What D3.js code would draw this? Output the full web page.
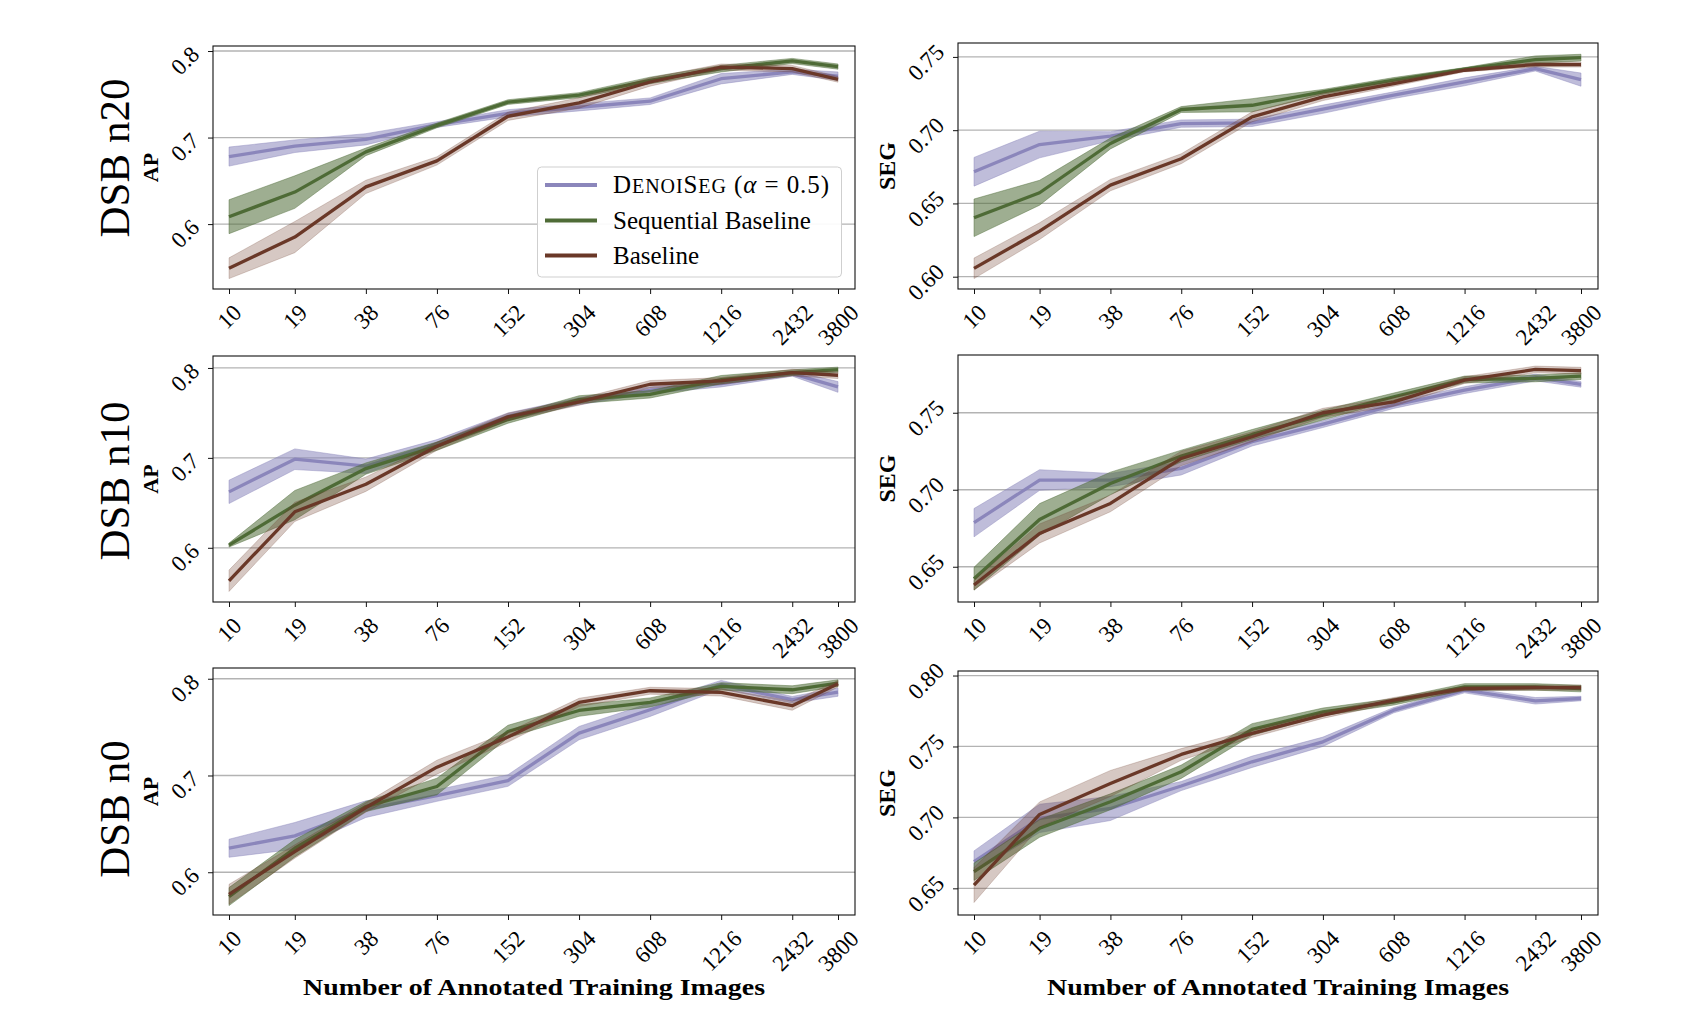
<!DOCTYPE html>
<html><head><meta charset="utf-8">
<script src="https://cdn.jsdelivr.net/npm/d3@7"></script>
<style>body{margin:0;background:#fff}svg{display:block}</style>
</head><body>
<svg id="chart" width="1682" height="1030"></svg>
<script>
// ---------------- DATA ----------------
const xValues = [10, 19, 38, 76, 152, 304, 608, 1216, 2432, 3800];
const xTickLabels = ["10", "19", "38", "76", "152", "304", "608", "1216", "2432", "3800"];
const seriesNames = ["DenoiSeg", "Sequential Baseline", "Baseline"];
const datasetNames = ["DSB n20", "DSB n10", "DSB n0"];
const metricNames = ["AP", "SEG"];
const xAxisTitle = "Number of Annotated Training Images";

// DSB n20 AP
const n20_AP_denoiseg = [0.678, 0.690, 0.698, 0.715, 0.728, 0.735, 0.742, 0.768, 0.776, 0.771];
const n20_AP_denoiseg_err = [0.011, 0.0073, 0.0065, 0.0033, 0.0042, 0.0042, 0.0038, 0.006, 0.003, 0.0048];
const n20_AP_sequential = [0.6085, 0.637, 0.6835, 0.714, 0.741, 0.749, 0.766, 0.7796, 0.7885, 0.782];
const n20_AP_sequential_err = [0.0196, 0.0188, 0.0044, 0.0027, 0.0027, 0.0029, 0.0038, 0.0038, 0.003, 0.003];
const n20_AP_baseline = [0.549, 0.585, 0.643, 0.673, 0.7246, 0.740, 0.7642, 0.7815, 0.7796, 0.7673];
const n20_AP_baseline_err = [0.012, 0.018, 0.0077, 0.0048, 0.0048, 0.006, 0.0048, 0.0035, 0.0038, 0.0033];
// DSB n20 SEG
const n20_SEG_denoiseg = [0.6716, 0.6902, 0.6959, 0.7045, 0.705, 0.7143, 0.7239, 0.733, 0.742, 0.7345];
const n20_SEG_denoiseg_err = [0.0098, 0.0091, 0.0031, 0.0025, 0.0025, 0.0028, 0.0023, 0.0027, 0.0016, 0.0045];
const n20_SEG_sequential = [0.6402, 0.6573, 0.6909, 0.7141, 0.717, 0.7261, 0.7341, 0.7416, 0.7482, 0.7495];
const n20_SEG_sequential_err = [0.0128, 0.0085, 0.0037, 0.002, 0.0045, 0.0017, 0.0018, 0.0011, 0.0025, 0.0023];
const n20_SEG_baseline = [0.6057, 0.6311, 0.6625, 0.6805, 0.7091, 0.7227, 0.7318, 0.7409, 0.7448, 0.7448];
const n20_SEG_baseline_err = [0.007, 0.0057, 0.0039, 0.0034, 0.0034, 0.0025, 0.0018, 0.0011, 0.0017, 0.0017];
// DSB n10 AP
const n10_AP_denoiseg = [0.6622, 0.6985, 0.6907, 0.7159, 0.7463, 0.763, 0.7752, 0.7826, 0.7937, 0.7789];
const n10_AP_denoiseg_err = [0.013, 0.0115, 0.008, 0.0044, 0.0037, 0.0039, 0.0037, 0.0037, 0.0028, 0.006];
const n10_AP_sequential = [0.603, 0.6474, 0.6881, 0.713, 0.7426, 0.7648, 0.7707, 0.787, 0.7948, 0.7981];
const n10_AP_sequential_err = [0.0022, 0.0163, 0.0063, 0.0046, 0.0041, 0.0043, 0.0041, 0.0046, 0.0031, 0.0028];
const n10_AP_baseline = [0.5633, 0.64, 0.6707, 0.713, 0.7456, 0.7622, 0.7819, 0.7856, 0.7948, 0.7919];
const n10_AP_baseline_err = [0.0119, 0.0107, 0.008, 0.0046, 0.0041, 0.0037, 0.0041, 0.0037, 0.0037, 0.0037];
// DSB n10 SEG
const n10_SEG_denoiseg = [0.6786, 0.7063, 0.7063, 0.7139, 0.7312, 0.7426, 0.755, 0.7647, 0.7729, 0.7684];
const n10_SEG_denoiseg_err = [0.0092, 0.0067, 0.0043, 0.0043, 0.0028, 0.0022, 0.0022, 0.0022, 0.0022, 0.0018];
const n10_SEG_sequential = [0.6422, 0.6807, 0.7041, 0.7219, 0.7359, 0.7485, 0.7604, 0.7716, 0.7723, 0.7738];
const n10_SEG_sequential_err = [0.0074, 0.0103, 0.0073, 0.0038, 0.0032, 0.0032, 0.0024, 0.0022, 0.0022, 0.0022];
const n10_SEG_baseline = [0.6381, 0.6716, 0.6911, 0.7203, 0.7344, 0.75, 0.7571, 0.7712, 0.7781, 0.7773];
const n10_SEG_baseline_err = [0.0032, 0.0062, 0.0054, 0.0047, 0.0032, 0.0029, 0.0028, 0.0022, 0.0022, 0.0022];
// DSB n0 AP
const n0_AP_denoiseg = [0.6248, 0.6376, 0.6652, 0.6793, 0.6948, 0.7438, 0.7679, 0.7938, 0.7783, 0.7862];
const n0_AP_denoiseg_err = [0.0093, 0.0138, 0.0086, 0.006, 0.006, 0.0069, 0.0069, 0.0045, 0.0034, 0.0043];
const n0_AP_sequential = [0.5748, 0.6248, 0.6679, 0.6886, 0.7455, 0.7672, 0.7755, 0.7921, 0.7886, 0.7955];
const n0_AP_sequential_err = [0.0093, 0.009, 0.0052, 0.0086, 0.0064, 0.006, 0.0047, 0.0038, 0.0041, 0.0034];
const n0_AP_baseline = [0.5772, 0.6214, 0.6669, 0.7086, 0.7397, 0.7755, 0.7876, 0.7859, 0.7721, 0.7948];
const n0_AP_baseline_err = [0.0103, 0.0069, 0.0048, 0.0072, 0.0052, 0.0043, 0.0036, 0.0038, 0.0047, 0.0034];
// DSB n0 SEG
const n0_SEG_denoiseg = [0.6688, 0.6993, 0.7063, 0.7221, 0.7392, 0.7533, 0.7756, 0.7897, 0.7822, 0.7838];
const n0_SEG_denoiseg_err = [0.0076, 0.01, 0.0085, 0.0032, 0.004, 0.0033, 0.0019, 0.0019, 0.0023, 0.0016];
const n0_SEG_sequential = [0.6617, 0.6923, 0.711, 0.7322, 0.762, 0.7744, 0.7815, 0.792, 0.792, 0.7908];
const n0_SEG_sequential_err = [0.0061, 0.0063, 0.0056, 0.0047, 0.0041, 0.0027, 0.0023, 0.0023, 0.0023, 0.0023];
const n0_SEG_baseline = [0.6523, 0.7021, 0.7239, 0.7444, 0.7592, 0.7721, 0.7826, 0.7908, 0.7915, 0.7915];
const n0_SEG_baseline_err = [0.0123, 0.0088, 0.0092, 0.0041, 0.0028, 0.0023, 0.0019, 0.0016, 0.0018, 0.0018];

// y-axis ticks and ranges
const apTicks = [0.6, 0.7, 0.8];
const segTicks_n20 = [0.60, 0.65, 0.70, 0.75];
const segTicks_n10 = [0.65, 0.70, 0.75];
const segTicks_n0 = [0.65, 0.70, 0.75, 0.80];
const yRange_n20_AP = [0.525, 0.8058];
const yRange_n20_SEG = [0.5916, 0.7595];
const yRange_n10_AP = [0.5397, 0.8133];
const yRange_n10_SEG = [0.6271, 0.7875];
const yRange_n0_AP = [0.5558, 0.8111];
const yRange_n0_SEG = [0.6312, 0.8032];

// ---------------- STYLE / LAYOUT ----------------
const lineColors = ["#8b86bb", "#4e6b36", "#6a3828"];
const fillOpacity = [0.55, 0.55, 0.28];
const serif = "'Liberation Serif', 'Times New Roman', serif";
const cols = [{x0: 213, x1: 855}, {x0: 958, x1: 1598}];
const rowTops = [[46, 43], [356, 355], [668, 671]];
const rowBottoms = [289, 602, 915];
const rowLabelY = [158, 481, 809];
const padL = 16, padR = 17;

const panels = [
  {row: 0, col: 0, range: yRange_n20_AP, ticks: apTicks, fmt: ".1f",
   means: [n20_AP_denoiseg, n20_AP_sequential, n20_AP_baseline],
   errs: [n20_AP_denoiseg_err, n20_AP_sequential_err, n20_AP_baseline_err]},
  {row: 0, col: 1, range: yRange_n20_SEG, ticks: segTicks_n20, fmt: ".2f",
   means: [n20_SEG_denoiseg, n20_SEG_sequential, n20_SEG_baseline],
   errs: [n20_SEG_denoiseg_err, n20_SEG_sequential_err, n20_SEG_baseline_err]},
  {row: 1, col: 0, range: yRange_n10_AP, ticks: apTicks, fmt: ".1f",
   means: [n10_AP_denoiseg, n10_AP_sequential, n10_AP_baseline],
   errs: [n10_AP_denoiseg_err, n10_AP_sequential_err, n10_AP_baseline_err]},
  {row: 1, col: 1, range: yRange_n10_SEG, ticks: segTicks_n10, fmt: ".2f",
   means: [n10_SEG_denoiseg, n10_SEG_sequential, n10_SEG_baseline],
   errs: [n10_SEG_denoiseg_err, n10_SEG_sequential_err, n10_SEG_baseline_err]},
  {row: 2, col: 0, range: yRange_n0_AP, ticks: apTicks, fmt: ".1f",
   means: [n0_AP_denoiseg, n0_AP_sequential, n0_AP_baseline],
   errs: [n0_AP_denoiseg_err, n0_AP_sequential_err, n0_AP_baseline_err]},
  {row: 2, col: 1, range: yRange_n0_SEG, ticks: segTicks_n0, fmt: ".2f",
   means: [n0_SEG_denoiseg, n0_SEG_sequential, n0_SEG_baseline],
   errs: [n0_SEG_denoiseg_err, n0_SEG_sequential_err, n0_SEG_baseline_err]}
];

const svg = d3.select("#chart");
const tickFont = 23;
const S2 = Math.SQRT2;

panels.forEach(p => {
  const c = cols[p.col];
  const top = rowTops[p.row][p.col], bottom = rowBottoms[p.row];
  const x = d3.scaleLog().domain([xValues[0], xValues[xValues.length - 1]]).range([c.x0 + padL, c.x1 - padR]);
  const y = d3.scaleLinear().domain(p.range).range([bottom, top]);
  const g = svg.append("g");
  const clipId = "clip" + p.row + p.col;
  svg.append("clipPath").attr("id", clipId).append("rect")
    .attr("x", c.x0).attr("y", top).attr("width", c.x1 - c.x0).attr("height", bottom - top);

  // grid
  g.append("g").selectAll("line").data(p.ticks).join("line")
    .attr("x1", c.x0).attr("x2", c.x1)
    .attr("y1", d => y(d)).attr("y2", d => y(d))
    .attr("stroke", "#b3b3b3").attr("stroke-width", 1.3);

  const plot = g.append("g").attr("clip-path", `url(#${clipId})`);
  p.means.forEach((m, si) => {
    const rows = xValues.map((xv, i) => ({x: xv, m: m[i], e: p.errs[si][i]}));
    const area = d3.area().x(d => x(d.x)).y0(d => y(d.m - d.e)).y1(d => y(d.m + d.e));
    plot.append("path").datum(rows).attr("d", area)
      .attr("fill", lineColors[si]).attr("fill-opacity", fillOpacity[si])
      .attr("stroke", lineColors[si]).attr("stroke-opacity", fillOpacity[si] * 0.8).attr("stroke-width", 1);
    const line = d3.line().x(d => x(d.x)).y(d => y(d.m));
    plot.append("path").datum(rows).attr("d", line)
      .attr("fill", "none").attr("stroke", lineColors[si]).attr("stroke-width", 3.3)
      .attr("stroke-linejoin", "round");
  });

  // axes via d3
  const xAxis = d3.axisBottom(x).tickValues(xValues).tickFormat((d, i) => xTickLabels[i]).tickSizeOuter(0).tickSize(5);
  const xa = g.append("g").attr("transform", `translate(0,${bottom})`).call(xAxis);
  xa.select(".domain").remove();
  xa.selectAll(".tick line").attr("stroke", "#111").attr("stroke-width", 1);
  xa.selectAll(".tick text").each(function(d, i) {
    const t = d3.select(this);
    t.attr("font-family", serif).attr("font-size", tickFont).attr("fill", "#000")
      .attr("text-anchor", "middle").attr("dominant-baseline", "central").attr("dy", null).attr("y", null);
    const w = this.getComputedTextLength();
    const B = (w + 0.7 * tickFont) / S2;
    t.attr("transform", `translate(0,${14 + B / 2}) rotate(-45)`);
  });

  const yAxis = d3.axisLeft(y).tickValues(p.ticks).tickFormat(d3.format(p.fmt)).tickSizeOuter(0).tickSize(5);
  const ya = g.append("g").attr("transform", `translate(${c.x0},0)`).call(yAxis);
  ya.select(".domain").remove();
  ya.selectAll(".tick line").attr("stroke", "#111").attr("stroke-width", 1);
  ya.selectAll(".tick text").each(function(d) {
    const t = d3.select(this);
    t.attr("font-family", serif).attr("font-size", tickFont).attr("fill", "#000")
      .attr("text-anchor", "middle").attr("dominant-baseline", "central").attr("dy", null).attr("x", null);
    const w = this.getComputedTextLength();
    const B = (w + 0.7 * tickFont) / S2;
    t.attr("transform", `translate(${-12 - B / 2},${25 - B / 2}) rotate(-45)`);
  });

  // frame
  g.append("rect").attr("x", c.x0).attr("y", top).attr("width", c.x1 - c.x0).attr("height", bottom - top)
    .attr("fill", "none").attr("stroke", "#111").attr("stroke-width", 1.1);

  // metric label
  const midY = (top + bottom) / 2;
  if (p.col === 0) {
    svg.append("text").attr("transform", `translate(158,${midY}) rotate(-90)`)
      .attr("text-anchor", "middle").attr("font-family", serif).attr("font-weight", "bold")
      .attr("font-size", 22).attr("fill", "#000").text(metricNames[0]);
    svg.append("text").attr("transform", `translate(129,${rowLabelY[p.row]}) rotate(-90)`)
      .attr("text-anchor", "middle").attr("font-family", serif)
      .attr("font-size", 43).attr("fill", "#000").text(datasetNames[p.row]);
  } else {
    svg.append("text").attr("transform", `translate(895,${midY}) rotate(-90)`)
      .attr("text-anchor", "middle").attr("font-family", serif).attr("font-weight", "bold")
      .attr("font-size", 24).attr("fill", "#000").text(metricNames[1]);
  }
  if (p.row === 2) {
    svg.append("text").attr("x", (c.x0 + c.x1) / 2).attr("y", 995)
      .attr("text-anchor", "middle").attr("font-family", serif).attr("font-weight", "bold")
      .attr("font-size", 24).attr("fill", "#000")
      .attr("textLength", 462).attr("lengthAdjust", "spacingAndGlyphs").text(xAxisTitle);
  }
});

// legend (top-left panel)
const lg = svg.append("g");
lg.append("rect").attr("x", 537.5).attr("y", 167).attr("width", 304).attr("height", 110).attr("rx", 4)
  .attr("fill", "#fff").attr("fill-opacity", 0.92).attr("stroke", "#cfcfcf").attr("stroke-width", 1);
const legendRowsY = [185, 220.5, 255.5];
seriesNames.forEach((name, i) => {
  lg.append("line").attr("x1", 545).attr("x2", 597).attr("y1", legendRowsY[i]).attr("y2", legendRowsY[i])
    .attr("stroke", lineColors[i]).attr("stroke-width", 4);
  const t = lg.append("text").attr("x", 613).attr("y", legendRowsY[i] + 8)
    .attr("font-family", serif).attr("font-size", 25).attr("fill", "#000");
  if (i === 0) {
    t.attr("textLength", 216).attr("lengthAdjust", "spacing");
    t.append("tspan").text("D");
    t.append("tspan").attr("font-size", 20).text("ENOI");
    t.append("tspan").text("S");
    t.append("tspan").attr("font-size", 20).text("EG");
    t.append("tspan").text(" (");
    t.append("tspan").attr("font-style", "italic").text("α");
    t.append("tspan").text(" = 0.5)");
  } else {
    t.text(name);
  }
});
</script>
</body></html>
